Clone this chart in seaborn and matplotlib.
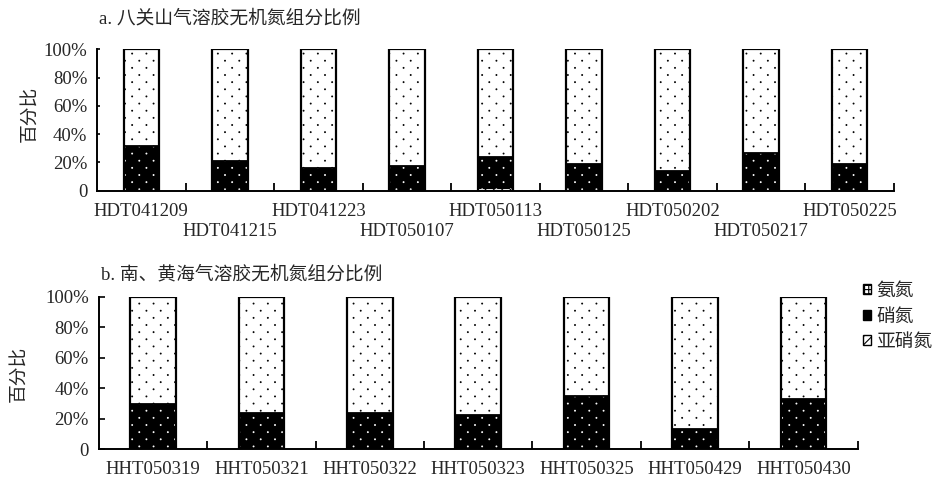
import matplotlib
matplotlib.use("Agg")
import matplotlib.pyplot as plt
import matplotlib.hatch as mhatch
from matplotlib.path import Path
from matplotlib.patches import Patch
from matplotlib.ticker import FixedLocator
import numpy as np
import pandas as pd
import seaborn as sns

# 八关山 samples (%)
samples_a = ["HDT041209", "HDT041215", "HDT041223", "HDT050107", "HDT050113",
             "HDT050125", "HDT050202", "HDT050217", "HDT050225"]
nitrite_a = [0.4, 0.3, 0.3, 0.8, 0.9, 0.4, 0.3, 0.5, 0.4]
nitrate_a = [31.1, 20.7, 15.7, 16.9, 23.1, 18.2, 13.4, 25.9, 18.2]
ammonium_a = [68.5, 79.0, 84.0, 82.3, 76.0, 81.4, 86.3, 73.6, 81.4]

# 南、黄海 samples (%)
samples_b = ["HHT050319", "HHT050321", "HHT050322", "HHT050323", "HHT050325",
             "HHT050429", "HHT050430"]
nitrite_b = [0.4, 0.3, 0.4, 0.3, 0.5, 0.3, 0.4]
nitrate_b = [28.9, 23.1, 23.0, 22.0, 34.5, 12.6, 32.4]
ammonium_b = [70.7, 76.6, 76.6, 77.7, 65.0, 87.1, 67.2]

yticks = [0, 20, 40, 60, 80, 100]
ytick_labels = ["0", "20%", "40%", "60%", "80%", "100%"]


class SparseDots(mhatch.HatchPatternBase):
    """Staggered grid of small filled dots for the '.' hatch:
    tight rows, wide columns, alternate rows shifted by half a column."""

    rows_per_cell = 14
    cols_per_cell = 7
    radius = 0.004

    def __init__(self, hatch, density):
        self.active = hatch.count(".") > 0
        circ = Path.unit_circle()
        self.circ_v = circ.vertices
        self.circ_c = circ.codes
        n = self.rows_per_cell * self.cols_per_cell if self.active else 0
        self.num_vertices = n * len(self.circ_v)

    def set_vertices_and_codes(self, vertices, codes):
        nv = len(self.circ_v)
        k = 0
        for i in range(self.rows_per_cell):
            y = (i + 0.5) / self.rows_per_cell
            shift = 0.5 * (i % 2)
            for j in range(self.cols_per_cell):
                x = (j + 0.25 + shift) / self.cols_per_cell
                vertices[k:k + nv] = self.circ_v * self.radius + (x, y)
                codes[k:k + nv] = self.circ_c
                k += nv


mhatch._hatch_types = [t for t in mhatch._hatch_types
                       if t is not mhatch.SmallFilledCircles] + [SparseDots]

sns.set_style("white")
plt.rcParams["font.family"] = ["Liberation Serif", "Noto Sans CJK SC"]
plt.rcParams["font.size"] = 13.5
plt.rcParams["hatch.linewidth"] = 0.8

W, H = 934, 478
fig = plt.figure(figsize=(W / 100, H / 100), dpi=100)


def frac_box(x0, x1, ytop, ybot):
    return [x0 / W, 1 - ybot / H, (x1 - x0) / W, (ybot - ytop) / H]


def stacked(ax, samples, nitrite, nitrate, ammonium, width, ytick_len, stagger):
    df = pd.DataFrame({"样品": samples, "亚硝氮": nitrite, "硝氮": nitrate, "氨氮": ammonium})
    df["lower"] = df["亚硝氮"] + df["硝氮"]
    df["total"] = df["lower"] + df["氨氮"]
    common = dict(data=df, x="样品", ax=ax, width=width, errorbar=None, saturation=1)
    # 氨氮: full stack height, white with black dots
    sns.barplot(y="total", color="white", edgecolor="black", hatch=".",
                linewidth=0, **common)
    # 硝氮 (+亚硝氮 underneath): black with white dots
    sns.barplot(y="lower", color="black", edgecolor="white", hatch=".",
                linewidth=0, **common)
    # 亚硝氮 at the base
    sns.barplot(y="亚硝氮", color="white", edgecolor="black", hatch="////",
                linewidth=0, **common)
    # outlines
    sns.barplot(y="lower", color="black", fill=False, linewidth=1.3, **common)
    sns.barplot(y="total", color="black", fill=False, linewidth=1.6, **common)

    n = len(samples)
    ax.set_xlim(-0.5, n - 0.5)
    ax.set_ylim(0, 100)
    ax.set_xlabel("")
    ax.set_ylabel("")
    ax.set_yticks(yticks)
    ax.set_yticklabels(ytick_labels)
    ax.set_xticks(range(n))
    if stagger:
        labels = [s if i % 2 == 0 else "\n" + s for i, s in enumerate(samples)]
    else:
        labels = samples
    ax.set_xticklabels(labels, linespacing=1.2)
    ax.xaxis.set_minor_locator(FixedLocator(np.arange(0.5, n, 1.0)))
    ax.tick_params(axis="x", which="major", length=0, pad=9, labelsize=13.5)
    ax.tick_params(axis="x", which="minor", direction="in", length=5.5, width=1.3,
                   color="black", bottom=True)
    ax.tick_params(axis="y", direction="in", length=ytick_len, width=1.2,
                   color="black", pad=7, labelsize=13.5, left=True)
    for side in ("top", "right"):
        ax.spines[side].set_visible(False)
    for side in ("left", "bottom"):
        ax.spines[side].set_color("black")
        ax.spines[side].set_linewidth(1.4)
    ax.set_facecolor("white")


ax_a = fig.add_axes(frac_box(97, 894, 49.3, 190.7))
stacked(ax_a, samples_a, nitrite_a, nitrate_a, ammonium_a, 0.4, 2.5, True)

ax_b = fig.add_axes(frac_box(98.7, 857.7, 296.7, 449))
stacked(ax_b, samples_b, nitrite_b, nitrate_b, ammonium_b, 0.42, 4.5, False)

fig.text(99 / W, 1 - 19 / H, "a. 八关山气溶胶无机氮组分比例", ha="left", va="center",
         fontsize=13.5)
fig.text(101 / W, 1 - 275 / H, "b. 南、黄海气溶胶无机氮组分比例", ha="left", va="center",
         fontsize=13.5)
fig.text(31 / W, 1 - 114 / H, "百分比", rotation=90, ha="center", va="center", fontsize=13.5)
fig.text(20 / W, 1 - 374 / H, "百分比", rotation=90, ha="center", va="center", fontsize=13.5)

handles = [
    Patch(facecolor="white", edgecolor="black", hatch="++++", linewidth=1.0, label="氨氮"),
    Patch(facecolor="black", edgecolor="black", linewidth=1.0, label="硝氮"),
    Patch(facecolor="white", edgecolor="black", hatch="////", linewidth=1.0, label="亚硝氮"),
]
fig.legend(handles=handles, loc="upper left", bbox_to_anchor=(863 / W, 1 - 283 / H),
           frameon=False, handlelength=0.42, handleheight=0.42, handletextpad=0.3,
           labelspacing=0.45, fontsize=13.5, borderaxespad=0, borderpad=0)

fig.savefig("out.png", dpi=100, facecolor="white")
